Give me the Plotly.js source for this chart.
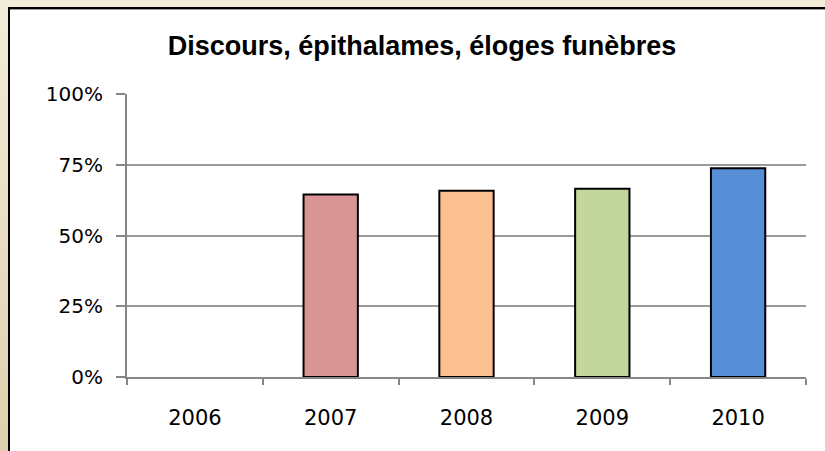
<!DOCTYPE html>
<html>
<head>
<meta charset="utf-8">
<script src="https://cdn.plot.ly/plotly-3.0.1.min.js"></script>
<style>
  html, body { margin:0; padding:0; }
  body { width:825px; height:451px; overflow:hidden; position:relative;
         background: linear-gradient(#F3ECD8, #DDD0AF); }
  #box { position:absolute; left:8px; top:7px; width:830px; height:460px; background:#fff;
         border-left:2px solid #000; border-top:2px solid #000; box-shadow: inset 0 1px 0 #999; }
  #chart { position:absolute; left:0; top:0; width:825px; height:451px; }
</style>
</head>
<body>
<div id="box"></div>
<div id="chart"></div>
<script>
const titleText = "Discours, épithalames, éloges funèbres";
const years = ["2006", "2007", "2008", "2009", "2010"];
const shares = [0, 0.645, 0.658, 0.665, 0.738];
const barColors = ["#4F81BD", "#D99694", "#FAC090", "#C3D69B", "#558ED5"];
const yTickVals = [0, 0.25, 0.5, 0.75, 1];
const yTickText = ["0%", "25%", "50%", "75%", "100%"];

const trace = {
  type: "bar",
  x: years,
  y: shares,
  marker: {
    color: barColors,
    line: { color: "#000", width: shares.map(v => v > 0 ? 2 : 0) }
  },
  hoverinfo: "x+y"
};

const layout = {
  width: 825, height: 451,
  paper_bgcolor: "rgba(0,0,0,0)",
  plot_bgcolor: "rgba(0,0,0,0)",
  margin: { l: 127, r: 19, t: 94, b: 74 },
  bargap: 0.6,
  showlegend: false,
  title: {
    text: titleText,
    font: { family: "Liberation Sans, Arial, sans-serif", size: 27, color: "#000", weight: "bold" },
    x: 0.5115, xanchor: "center", xref: "container",
    y: 0.898, yanchor: "middle", yref: "container"
  },
  font: { family: "DejaVu Sans, Verdana, sans-serif", size: 21, color: "#000" },
  xaxis: {
    type: "category",
    showline: true, linecolor: "#868686", linewidth: 2,
    ticks: "outside", tickson: "boundaries", ticklen: 6, tickwidth: 2, tickcolor: "#868686",
    showgrid: false, zeroline: false,
    ticklabelstandoff: 21,
    tickfont: { size: 21 }
  },
  yaxis: {
    range: [0, 1],
    tickvals: yTickVals, ticktext: yTickText,
    showline: true, linecolor: "#868686", linewidth: 2,
    ticks: "outside", ticklen: 9, tickwidth: 2, tickcolor: "#868686",
    showgrid: true, gridcolor: "#9A9A9A", gridwidth: 2,
    zeroline: false,
    ticklabelstandoff: 9,
    tickfont: { size: 20 }
  }
};

Plotly.newPlot("chart", [trace], layout, { displayModeBar: false, staticPlot: true });
</script>
</body>
</html>
